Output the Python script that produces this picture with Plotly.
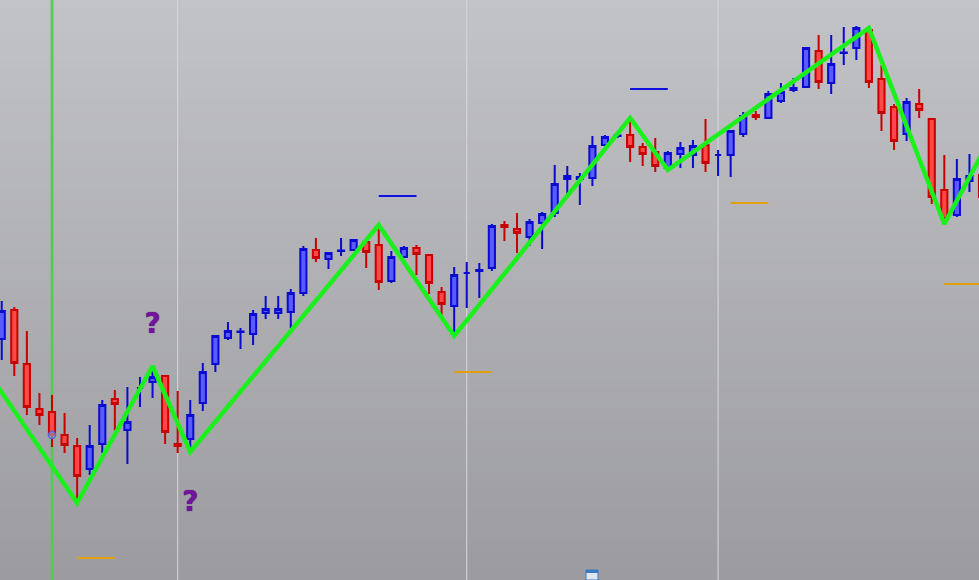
import plotly.graph_objects as go

# candle data (bar index, OHLC in price points)
bar_idx = list(range(79))
opens = [261, 290, 236, 191, 188, 165, 154, 131, 156, 201, 170, 212, 218, 224, 156, 161, 197, 236, 262, 268.0,
         266, 287, 287, 288, 307, 350, 341, 349.0, 350, 358, 355, 319, 343, 352, 345, 308, 294, 327, 329, 332,
         375, 371, 363, 377, 387, 421, 421, 422, 455, 464.0, 465, 453, 448, 432, 446, 445, 455, 445, 445, 466,
         485, 482, 499, 510, 513, 549, 517, 547.0, 552, 570, 521, 493, 466, 496, 481, 410, 385, 419, 425]
closes = [289, 237, 193, 185, 165, 155, 124, 154, 195, 196, 178, 212, 223, 168, 154, 185, 228, 264, 269, 268.4,
          286, 291, 291, 307, 351, 342, 347, 349.4, 360, 348, 318, 343, 352, 346, 317, 296, 325, 327, 330, 374,
          373, 367, 378, 386, 416, 424, 423, 454, 463, 464.4, 453, 446, 434, 447, 452, 454, 437, 445, 469, 484,
          483, 506, 508, 512, 552, 518, 536, 547.4, 572, 518, 487, 459, 498, 490, 403, 381, 421, 424, 403]
highs = [299, 293, 269, 207, 205, 187, 162, 175, 200, 210, 213, 223, 234, 224, 209, 200, 237, 265, 278, 272,
         290, 304, 304, 311, 354, 362, 348, 362, 361, 362, 375, 349, 354, 355, 346, 313, 333, 338, 337, 376,
         379, 387, 381, 388, 435, 434, 427, 464, 465, 467, 482, 457, 462, 449, 458, 460, 481, 450, 470, 488,
         489, 509, 517, 522, 553, 565, 565, 573, 574, 572, 535, 496, 502, 511, 481, 445, 441, 446, 440]
lows = [240, 224, 185, 175, 153, 147, 97, 125, 147, 170, 136, 193, 202, 156, 147, 148, 189, 228, 260, 251,
        255, 281, 281, 272, 304, 338, 331, 344, 349, 332, 310, 317, 342, 325, 306, 285, 264, 292, 302, 329,
        359, 347, 354, 351, 383, 406, 395, 414, 454, 462, 438, 434, 428, 430, 432, 432, 428, 424, 423, 463,
        480, 481, 497, 508, 512, 511, 506, 535, 540, 512, 469, 450, 459, 482, 396, 376, 383, 408, 400]

# zigzag swing points
zz_idx = [-1, 6, 12, 15, 30, 36, 50, 53, 69, 75, 78]
zz_price = [226, 97, 234, 148, 375, 264, 482, 430, 572, 376, 446]

# swing level marks: (start bar, end bar, price, colour)
level_x0 = [6, 36, 58, 75, 30, 50]
level_x1 = [9, 39, 61, 78, 33, 53]
level_price = [42, 228, 397, 316, 404, 511]
level_color = ["#e0a010", "#e0a010", "#e0a010", "#e0a010", "#1010e0", "#1010e0"]

# unconfirmed swing marks
q_idx = [12, 15]
q_price = [274, 96]

session_bars = [14, 37, 57]
marker_bar = 4

fig = go.Figure()

fig.add_trace(go.Candlestick(
    x=bar_idx, open=opens, high=highs, low=lows, close=closes,
    increasing=dict(fillcolor="#5a5aff", line=dict(color="#0a0ad0", width=2)),
    decreasing=dict(fillcolor="#ff4848", line=dict(color="#c80000", width=2)),
    whiskerwidth=0,
    showlegend=False,
    hoverinfo="skip",
))

fig.add_trace(go.Scatter(
    x=zz_idx, y=zz_price, mode="lines",
    line=dict(color="#1cf01c", width=4.5),
    showlegend=False, hoverinfo="skip",
))

fig.add_trace(go.Scatter(
    x=[marker_bar], y=[165], mode="markers",
    marker=dict(size=7, color="rgba(170,170,200,0.6)", line=dict(color="#4a6ae0", width=1.5)),
    showlegend=False, hoverinfo="skip",
))

fig.add_trace(go.Scatter(
    x=q_idx, y=q_price, mode="text", text=["?"] * len(q_idx),
    textfont=dict(family="DejaVu Sans", size=28, color="#70159c", weight="bold",
                  shadow="0px 0px 1px #3c0a58"),
    showlegend=False, hoverinfo="skip",
))

shapes = []
# background gradient, light grey top to darker bottom
n_bands = 58
top_c = (194, 195, 199)
bot_c = (156, 156, 160)
for i in range(n_bands):
    t = i / (n_bands - 1)
    c = tuple(round(top_c[k] + (bot_c[k] - top_c[k]) * t) for k in range(3))
    shapes.append(dict(
        type="rect", xref="paper", yref="paper",
        x0=0, x1=1, y0=1 - (i + 1) / n_bands, y1=1 - i / n_bands + 0.001,
        fillcolor=f"rgb{c}", line_width=0, layer="below",
    ))

for b in session_bars:
    shapes.append(dict(type="line", xref="x", yref="paper", x0=b, x1=b, y0=0, y1=1,
                       line=dict(color="#d8d8dc", width=1), layer="below"))

shapes.append(dict(type="line", xref="x", yref="paper", x0=marker_bar, x1=marker_bar, y0=0, y1=1,
                   line=dict(color="#55c855", width=2.7), layer="below"))

for x0, x1, p, col in zip(level_x0, level_x1, level_price, level_color):
    shapes.append(dict(type="line", xref="x", yref="y", x0=x0, x1=x1, y0=p, y1=p,
                       line=dict(color=col, width=2)))

# small calendar icon at the bottom
shapes.append(dict(type="rect", xref="paper", yref="paper", x0=586 / 979, x1=598 / 979,
                   y0=0, y1=10 / 580, fillcolor="#dfe6f0", line=dict(color="#3a78c0", width=1)))
shapes.append(dict(type="rect", xref="paper", yref="paper", x0=586 / 979, x1=598 / 979,
                   y0=7 / 580, y1=10 / 580, fillcolor="#3a78c0", line_width=0))

fig.update_layout(
    width=979,
    height=580,
    margin=dict(l=0, r=0, t=0, b=0),
    paper_bgcolor="#adadb1",
    plot_bgcolor="rgba(0,0,0,0)",
    shapes=shapes,
    showlegend=False,
    xaxis=dict(range=[-0.138, 77.76], visible=False, rangeslider=dict(visible=False), fixedrange=True),
    yaxis=dict(range=[20, 600], visible=False, fixedrange=True),
)

fig.write_html(
    "out.html",
    config={"displayModeBar": False},
    post_script="document.body.style.margin='0px';document.body.style.overflow='hidden';",
)
